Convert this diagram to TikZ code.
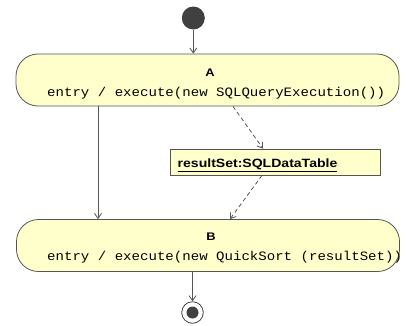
\documentclass[tikz,border=0pt]{standalone}
\usepackage{fontspec}
\usetikzlibrary{arrows.meta}
\newfontfamily\labelfont[FakeStretch=1.17]{Liberation Sans}
\newfontfamily\codefont[FakeStretch=1.1]{Liberation Mono}
\definecolor{statefill}{HTML}{FFFFCC}
\definecolor{edge}{HTML}{555555}
\definecolor{dot}{HTML}{404040}
\tikzset{
  statebox/.style={draw=edge, fill=statefill, rounded corners=22pt,
    minimum width=383pt, minimum height=52pt, inner sep=0pt, line width=0.8pt},
  objbox/.style={draw=edge, fill=statefill, minimum width=210pt,
    minimum height=26pt, inner sep=0pt, line width=0.8pt},
  title/.style={font=\labelfont\bfseries\fontsize{11}{13}\selectfont,
    anchor=base, inner sep=0pt},
  objname/.style={font=\labelfont\bfseries\fontsize{12}{14}\selectfont,
    anchor=base west, inner sep=0pt},
  code/.style={font=\codefont\fontsize{12.8}{15}\selectfont,
    anchor=base west, inner sep=0pt},
  flow/.style={draw=edge, line width=0.8pt,
    -{Straight Barb[length=5pt,width=7pt]}},
  dep/.style={flow, dash pattern=on 4pt off 3pt},
}
\begin{document}
\begin{tikzpicture}[x=1pt,y=-1pt]
\useasboundingbox (0,0) rectangle (406,325);

% pseudo states
\node[circle, fill=dot, minimum size=23pt, inner sep=0pt] (init) at (193.3,18) {};
\node[circle, draw=dot, line width=0.8pt, minimum size=21.6pt, inner sep=0pt] (final) at (192.5,312.5) {};
\node[circle, fill=dot, minimum size=12pt, inner sep=0pt] (finaldot) at (final) {};

% state A
\node[statebox] (A) at (207.5,80) {};
\node[title] (Aname) at (210,76) {A};
\node[code] (Aentry) at (47,96) {entry / execute(new SQLQueryExecution())};

% object flowing between the states
\node[objbox] (rs) at (275,162) {};
\node[objname] (rsname) at (177.5,167.3) {\underline{resultSet:SQLDataTable}};

% state B
\node[statebox] (B) at (208,245.5) {};
\node[title] (Bname) at (211,240.5) {B};
\node[code] (Bentry) at (47,260) {entry / execute(new QuickSort (resultSet))};

% transitions and object flows
\draw[flow] (init.south) -- (init.south |- A.north);
\draw[flow] ([xshift=-109.5pt]A.south) -- ([xshift=-110pt]B.north);
\draw[dep] ([xshift=25.5pt]A.south) -- ([xshift=-12pt]rs.north);
\draw[dep] ([xshift=-13pt]rs.south) -- ([xshift=22pt]B.north);
\draw[flow] (B.south -| final) -- (final.north);
\end{tikzpicture}
\end{document}
